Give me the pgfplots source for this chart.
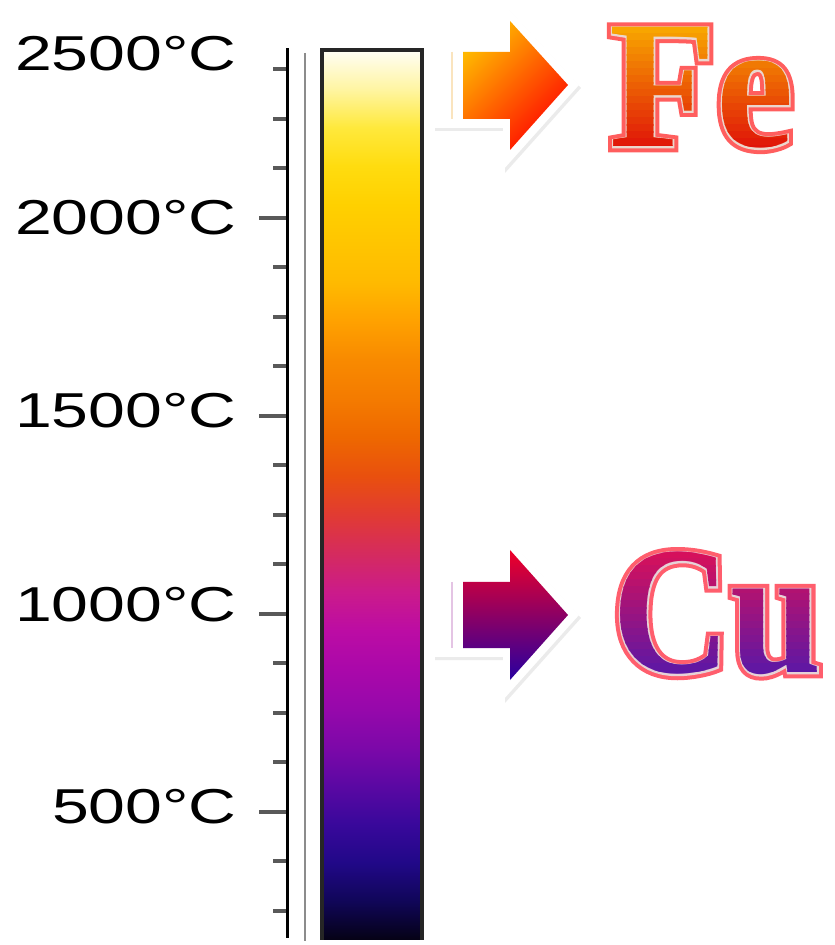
\documentclass[border=0pt]{standalone}
\usepackage{fontspec}
\usepackage{pgfplots}
\pgfplotsset{compat=1.18}
\setmainfont{Liberation Sans}
\newfontfamily\labfont{Liberation Sans}[FakeStretch=1.35]
\newfontfamily\feF{Liberation Serif}[FakeStretch=0.96]
\newfontfamily\feG{Liberation Serif}[FakeStretch=0.96, BoldFeatures={FakeBold=6}]
\newfontfamily\feR{Liberation Serif}[FakeStretch=0.96, BoldFeatures={FakeBold=1.6}]
\newfontfamily\cuF{Liberation Serif}[FakeStretch=0.9]
\newfontfamily\cuG{Liberation Serif}[FakeStretch=0.9, BoldFeatures={FakeBold=6}]
\newfontfamily\cuR{Liberation Serif}[FakeStretch=0.9, BoldFeatures={FakeBold=1.6}]
\definecolor{FeTop}{HTML}{F8A800}
\definecolor{FeBot}{HTML}{E01408}
\definecolor{CuTop}{HTML}{D8105A}
\definecolor{CuBot}{HTML}{5818A8}
\definecolor{FeArA}{HTML}{FFB800}
\definecolor{FeArB}{HTML}{FF0800}
\definecolor{CuArA}{HTML}{F00028}
\definecolor{CuArM}{HTML}{960080}
\definecolor{CuArB}{HTML}{2800A0}
\begin{document}
\begin{tikzpicture}
\path[use as bounding box] (0,0) rectangle (417pt,472.5pt);
\begin{axis}[
  at={(143.5pt,3.5pt)}, anchor=south west,
  scale only axis, width=273.5pt, height=445pt,
  xmin=287, xmax=834, ymin=181.8, ymax=2429.3,
  enlargelimits=false,
  axis x line=none, axis y line=left,
  y axis line style={-, line width=1.5pt, black},
  ytick={500,1000,1500,2000},
  yticklabels={\raisebox{6pt}{500°C},\raisebox{10pt}{1000°C},\raisebox{6pt}{1500°C},2000°C},
  minor ytick={250,375,625,750,875,1125,1250,1375,1625,1750,1875,2125,2250,2375},
  tick align=outside,
  major tick length=14pt, minor tick length=7pt,
  every tick/.style={black!65, line width=2pt},
  yticklabel style={font=\labfont\fontsize{24.5pt}{24.5pt}\selectfont, anchor=east, inner sep=0pt, xshift=-11pt},
  extra y ticks={2414}, extra y tick labels={2500°C},
  extra y tick style={major tick length=0pt, yticklabel style={xshift=-14pt}},
  clip=false,
  colormap={fire}{rgb255=(5,2,21) rgb255=(16,6,88) rgb255=(33,8,136) rgb255=(57,8,155) rgb255=(91,8,163) rgb255=(125,8,169) rgb255=(151,8,171) rgb255=(170,8,170) rgb255=(188,12,164) rgb255=(203,27,138) rgb255=(213,43,94) rgb255=(225,59,50) rgb255=(233,80,14) rgb255=(238,104,0) rgb255=(244,123,0) rgb255=(248,138,0) rgb255=(255,161,0) rgb255=(255,186,0) rgb255=(255,197,0) rgb255=(255,208,0) rgb255=(255,220,15) rgb255=(255,233,60) rgb255=(255,245,163) rgb255=(255,254,245)},
  point meta min=176.8, point meta max=2424.2,
]
% second thin gray line
\addplot[black!45, line width=1.25pt] coordinates {(305,2416.7) (305,175)};
% colour bar
\addplot[patch, patch type=rectangle, shader=interp, point meta=y] coordinates {
(322,176.8)(422,176.8)(422,275.3)(322,275.3)
(322,275.3)(422,275.3)(422,371.2)(322,371.2)
(322,371.2)(422,371.2)(422,469.7)(322,469.7)
(322,469.7)(422,469.7)(422,568.2)(322,568.2)
(322,568.2)(422,568.2)(422,666.7)(322,666.7)
(322,666.7)(422,666.7)(422,762.6)(322,762.6)
(322,762.6)(422,762.6)(422,861.1)(322,861.1)
(322,861.1)(422,861.1)(422,959.6)(322,959.6)
(322,959.6)(422,959.6)(422,1055.6)(322,1055.6)
(322,1055.6)(422,1055.6)(422,1154.0)(322,1154.0)
(322,1154.0)(422,1154.0)(422,1252.5)(322,1252.5)
(322,1252.5)(422,1252.5)(422,1348.5)(322,1348.5)
(322,1348.5)(422,1348.5)(422,1447.0)(322,1447.0)
(322,1447.0)(422,1447.0)(422,1545.5)(322,1545.5)
(322,1545.5)(422,1545.5)(422,1641.4)(322,1641.4)
(322,1641.4)(422,1641.4)(422,1739.9)(322,1739.9)
(322,1739.9)(422,1739.9)(422,1838.4)(322,1838.4)
(322,1838.4)(422,1838.4)(422,1936.9)(322,1936.9)
(322,1936.9)(422,1936.9)(422,2032.8)(322,2032.8)
(322,2032.8)(422,2032.8)(422,2131.3)(322,2131.3)
(322,2131.3)(422,2131.3)(422,2229.8)(322,2229.8)
(322,2229.8)(422,2229.8)(422,2325.8)(322,2325.8)
(322,2325.8)(422,2325.8)(422,2424.2)(322,2424.2)
};
% bar border
\addplot[black!85, line width=1.75pt] coordinates {(322,176.8) (322,2424.2) (422,2424.2) (422,176.8)};
% Fe arrow: soft shadow, white border, gradient body
\addplot[draw=none, fill=black!8] coordinates {(435,2434.3) (505,2434.3) (505,2535.3) (581,2328.3) (505,2113.6) (505,2219.7) (435,2219.7)} -- cycle;
\addplot[draw=none, fill=white] coordinates {(433,2441.9) (503,2441.9) (503,2542.9) (579,2335.9) (503,2121.2) (503,2227.3) (433,2227.3)} -- cycle;
\addplot[draw=none, top color=FeArA, bottom color=FeArB, shading angle=45] coordinates {(463,2419.2) (510,2419.2) (510,2497.5) (568,2335.9) (510,2171.7) (510,2250.0) (463,2250.0)} -- cycle;
\addplot[color={rgb,255:red,250;green,228;blue,190}, line width=1pt] coordinates {(452,2419.2) (452,2250.0)};
% Cu arrow
\addplot[draw=none, fill=black!8] coordinates {(435,1095.9) (505,1095.9) (505,1196.9) (581,989.9) (505,775.2) (505,883.8) (435,883.8)} -- cycle;
\addplot[draw=none, fill=white] coordinates {(433,1103.5) (503,1103.5) (503,1204.5) (579,997.5) (503,782.8) (503,891.4) (433,891.4)} -- cycle;
\addplot[draw=none, top color=CuArA, middle color=CuArM, bottom color=CuArB] coordinates {(463,1080.8) (510,1080.8) (510,1161.6) (568,997.5) (510,833.3) (510,914.1) (463,914.1)} -- cycle;
\addplot[color={rgb,255:red,228;green,196;blue,228}, line width=1pt] coordinates {(452,1080.8) (452,914.1)};
\end{axis}
% element symbols: red glow, light rim, then vertical gradient fill in bands
\node[anchor=base west, inner sep=0pt, text={rgb,255:red,255;green,40;blue,40}, text opacity=0.75, font=\feG\bfseries\fontsize{91pt}{91pt}\selectfont] at (304.5pt,399pt) {Fe};
\node[anchor=base west, inner sep=0pt, text={rgb,255:red,235;green,215;blue,205}, font=\feR\bfseries\fontsize{91pt}{91pt}\selectfont] at (304.5pt,399pt) {Fe};
\foreach \i in {0,...,19}{
  \pgfmathsetmacro\yb{462.5-3.5*(\i+1)-0.1}
  \pgfmathsetmacro\yt{462.5-3.5*\i}
  \pgfmathtruncatemacro\p{max(0,min(100,((20+7*(\i+0.5))-27)/120*100))}
  \begin{scope}
    \clip (280pt,\yb pt) rectangle (417pt,\yt pt);
    \node[anchor=base west, inner sep=0pt, text=FeBot!\p!FeTop, font=\feF\bfseries\fontsize{91pt}{91pt}\selectfont] at (304.5pt,399pt) {Fe};
  \end{scope}
}
\node[anchor=base west, inner sep=0pt, text={rgb,255:red,255;green,40;blue,60}, text opacity=0.75, font=\cuG\bfseries\fontsize{91pt}{91pt}\selectfont] at (306pt,136pt) {Cu};
\node[anchor=base west, inner sep=0pt, text={rgb,255:red,230;green,210;blue,215}, font=\cuR\bfseries\fontsize{91pt}{91pt}\selectfont] at (306pt,136pt) {Cu};
\foreach \i in {0,...,19}{
  \pgfmathsetmacro\yb{200-3.5*(\i+1)-0.1}
  \pgfmathsetmacro\yt{200-3.5*\i}
  \pgfmathtruncatemacro\p{max(0,min(100,((545+7*(\i+0.5))-553)/124*100))}
  \begin{scope}
    \clip (280pt,\yb pt) rectangle (417pt,\yt pt);
    \node[anchor=base west, inner sep=0pt, text=CuBot!\p!CuTop, font=\cuF\bfseries\fontsize{91pt}{91pt}\selectfont] at (306pt,136pt) {Cu};
  \end{scope}
}
\end{tikzpicture}
\end{document}
